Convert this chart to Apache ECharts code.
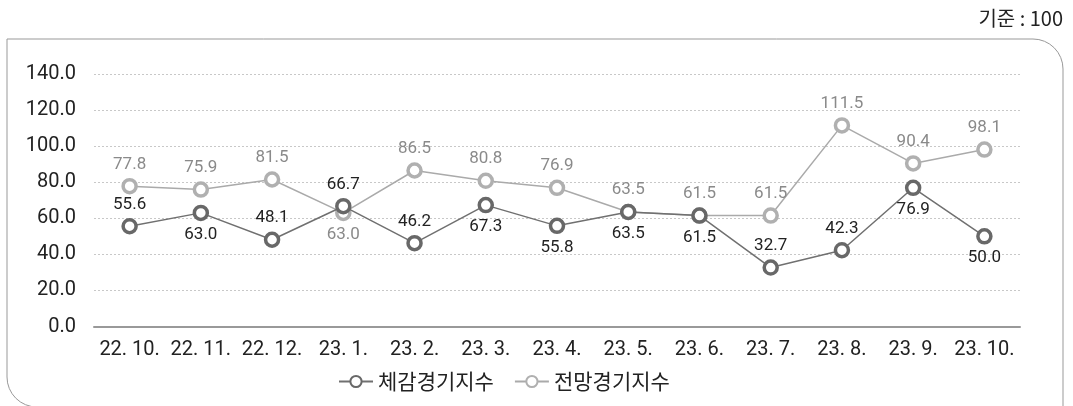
<!DOCTYPE html>
<html>
<head>
<meta charset="utf-8">
<script src="https://cdn.jsdelivr.net/npm/echarts@6/dist/echarts.min.js"></script>
<style>
html,body{margin:0;padding:0;background:#fff;}
#c{width:1073px;height:406px;}
</style>
</head>
<body>
<div id="c"></div>
<script>
const categories = ['22. 10.', '22. 11.', '22. 12.', '23. 1.', '23. 2.', '23. 3.', '23. 4.', '23. 5.', '23. 6.', '23. 7.', '23. 8.', '23. 9.', '23. 10.'];
const actualName = '체감경기지수';
const actualValues = [55.6, 63.0, 48.1, 66.7, 46.2, 67.3, 55.8, 63.5, 61.5, 32.7, 42.3, 76.9, 50.0];
const actualLabelPos = ['top', 'bottom', 'top', 'top', 'top', 'bottom', 'bottom', 'bottom', 'bottom', 'top', 'top', 'bottom', 'bottom'];
const outlookName = '전망경기지수';
const outlookValues = [77.8, 75.9, 81.5, 63.0, 86.5, 80.8, 76.9, 63.5, 61.5, 61.5, 111.5, 90.4, 98.1];
const outlookLabelPos = ['top', 'top', 'top', 'bottom', 'top', 'top', 'top', 'top', 'top', 'top', 'top', 'top', 'top'];
const unitNote = '기준 : 100';
const yMin = 0, yMax = 140, yStep = 20;

const FONT = 'Roboto, "Noto Sans CJK KR", sans-serif';

function mkData(vals, pos) {
  return vals.map((v, i) => ({ value: v, label: { position: pos[i] } }));
}

const chart = echarts.init(document.getElementById('c'), null, { renderer: 'canvas' });
chart.setOption({
  animation: false,
  backgroundColor: '#fff',
  textStyle: { fontFamily: FONT },
  graphic: [
    {
      type: 'rect', z: -10,
      shape: { x: 7, y: 39, width: 1056, height: 368, r: [0, 30, 0, 30] },
      style: { fill: 'none', stroke: '#999', lineWidth: 1 }
    },
    {
      type: 'text', right: 10, top: 8,
      style: { text: unitNote, fill: '#222', fontSize: 20, fontFamily: '"Noto Sans CJK KR", sans-serif' }
    }
  ],
  grid: { left: 94, right: 53, top: 74, bottom: 79.5, containLabel: false },
  legend: {
    bottom: 9, left: 333,
    itemWidth: 34, itemHeight: 14, itemGap: 20,
    textStyle: { fontSize: 21, color: '#222', fontFamily: '"Noto Sans CJK KR", sans-serif' },
    data: [actualName, outlookName]
  },
  xAxis: {
    type: 'category', data: categories, boundaryGap: true,
    axisLine: { lineStyle: { color: '#999', width: 2 } },
    axisTick: { show: false },
    axisLabel: { fontSize: 20, color: '#222', margin: 13, fontFamily: FONT, interval: 0 }
  },
  yAxis: {
    type: 'value', min: yMin, max: yMax, interval: yStep,
    axisLine: { show: false }, axisTick: { show: false },
    axisLabel: { fontSize: 20, color: '#222', margin: 18, fontFamily: FONT, formatter: v => v.toFixed(1) },
    splitLine: { lineStyle: { color: '#c8c8c8', type: [2, 2], width: 1 } }
  },
  series: [
    {
      name: outlookName, type: 'line', data: mkData(outlookValues, outlookLabelPos),
      symbol: 'circle', symbolSize: 13,
      lineStyle: { color: '#aaa', width: 1.5 },
      itemStyle: { color: '#fff', borderColor: '#b0b0b0', borderWidth: 3.5 },
      label: { show: true, fontSize: 17, color: '#8a8a8a', distance: 5, fontFamily: FONT, formatter: p => p.value.toFixed(1) },
      z: 2
    },
    {
      name: actualName, type: 'line', data: mkData(actualValues, actualLabelPos),
      symbol: 'circle', symbolSize: 13,
      lineStyle: { color: '#707070', width: 1.5 },
      itemStyle: { color: '#fff', borderColor: '#686868', borderWidth: 3.5 },
      label: { show: true, fontSize: 17, color: '#222', distance: 5, fontFamily: FONT, formatter: p => p.value.toFixed(1) },
      z: 3
    }
  ]
});
</script>
</body>
</html>
